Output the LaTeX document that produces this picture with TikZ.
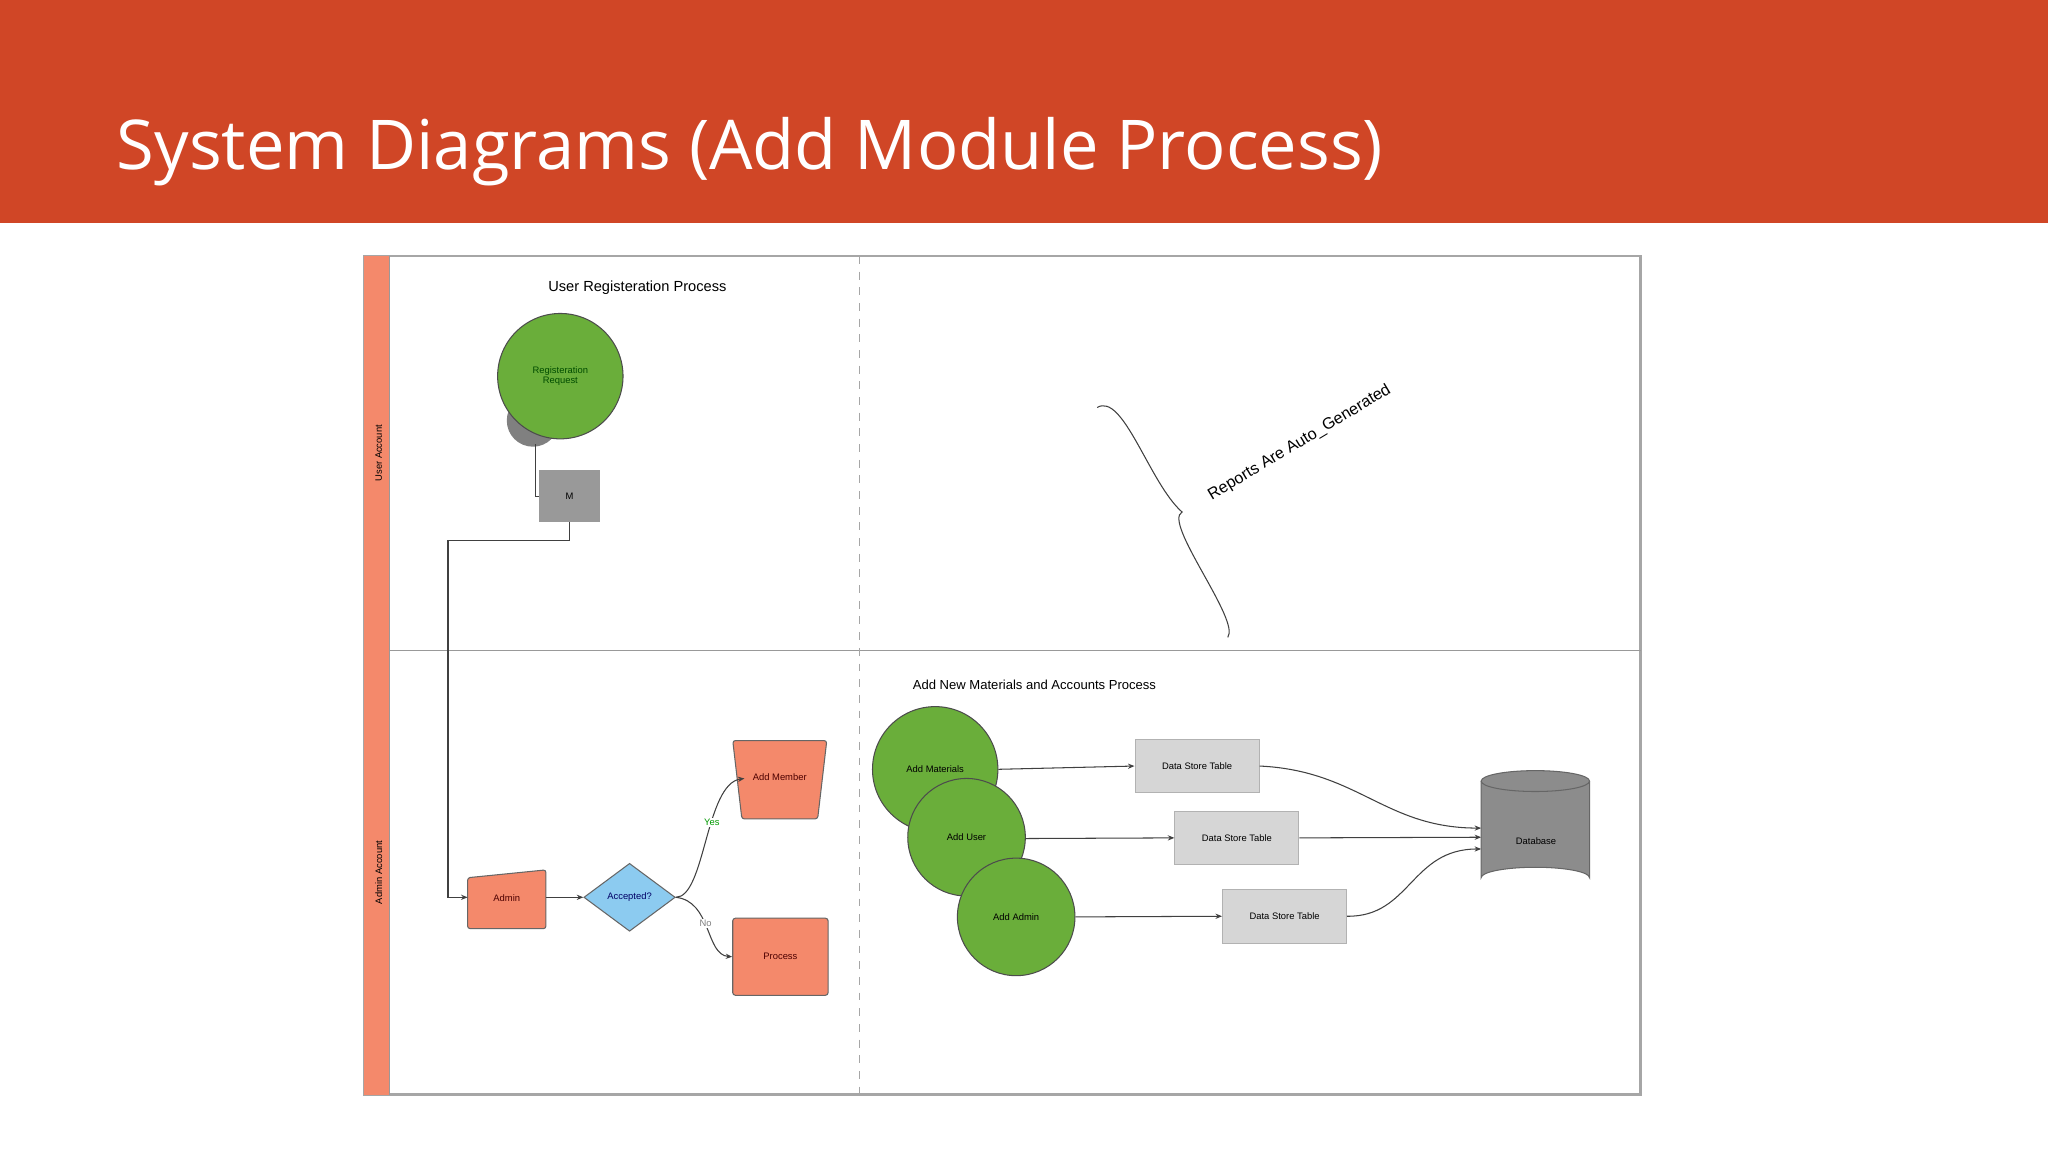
\documentclass[tikz,border=0pt]{standalone}
\usepackage{fontspec}
\setmainfont{Liberation Sans}
\newfontfamily\titlefont{Open Sans}
\usetikzlibrary{shapes.geometric,arrows.meta}
\definecolor{hdr}{HTML}{D04626}
\definecolor{salmon}{HTML}{F4896B}
\definecolor{grn}{HTML}{6AAE3A}
\definecolor{blu}{HTML}{8CCBF0}
\definecolor{dst}{HTML}{D6D6D6}
\tikzset{
 x=0.5pt,y=-0.5pt,
 lbl/.style={font=\fontsize{3.6pt}{4pt}\selectfont,align=center},
 circ/.style={circle,draw=black!70,fill=grn,line width=0.4pt,minimum size=#1*0.5pt,inner sep=0pt,lbl},
 store/.style={rectangle,draw=black!30,fill=dst,minimum width=47.5pt,minimum height=20.5pt,lbl},
 sal/.style={draw=black!60,fill=salmon,line width=0.4pt,rounded corners=1pt},
 conn/.style={draw=black!75,line width=0.4pt},
 arr/.style={conn,-{Stealth[length=2.5pt,width=2pt]}},
}
\begin{document}
\begin{tikzpicture}
\useasboundingbox (0,0) rectangle (1568,882);
\fill[white] (0,0) rectangle (1568,882);
\fill[hdr] (0,0) rectangle (1568,171);
\node[anchor=west,text=white,font=\titlefont\fontsize{26.3pt}{30pt}\selectfont,inner sep=0] (title) at (89,116) {System Diagrams (Add Module Process)};
% frame
\draw[black!35,line width=0.8pt] (279,196) rectangle (1256,838);
\fill[salmon] (279,196) rectangle (298,838);
\draw[black!40,line width=0.4pt] (298,196) -- (298,838);
\draw[black!40,line width=0.6pt] (298,498) -- (1256,498);
\draw[black!35,dashed,line width=0.4pt] (658,196) -- (658,838);
\node[lbl,rotate=90] (ua) at (290,347) {User Account};
\node[lbl,rotate=90] (aa) at (290,668) {Admin Account};
\node[font=\fontsize{5.6pt}{6pt}\selectfont] (t1) at (488,220) {User Registeration Process};
\node[font=\fontsize{5pt}{6pt}\selectfont] (t2) at (792,524) {Add New Materials and Accounts Process};
% user registration
\node[circle,fill=black!50,minimum size=20pt,inner sep=0] (sh) at (408,322) {};
\node[circ=96,text=green!30!black] (reg) at (429,288) {Registeration\\Request};
\node[rectangle,draw=black!40,fill=black!40,minimum width=23pt,minimum height=19.5pt,lbl] (m) at (436,380) {M};
\coordinate (s1) at (410,340);
\draw[conn] (s1) |- (m.west);
\coordinate (c1) at (343,414);
\path[sal] (358,672) -- (418,666) -- (418,711) -- (358,711) -- cycle;
\node[lbl,text=red!30!black] (admin) at (388,688) {Admin};
\coordinate (adminw) at (358,687);
\draw[arr] (m.south) |- (c1) -- (343,687) -- (adminw);
\node[diamond,draw=black!60,fill=blu,minimum width=35pt,minimum height=26pt,inner sep=0,lbl,text=blue!40!black] (acc) at (482,687) {Accepted?};
\draw[arr] (418,687) -- (acc.west);
\path[sal] (561,567) -- (633,567) -- (626,627) -- (568,627) -- cycle;
\node[lbl,text=red!30!black] (am) at (597,595) {Add Member};
\node[sal,rectangle,minimum width=36.5pt,minimum height=29.5pt,lbl,text=red!30!black] (proc) at (597.5,732.5) {Process};
\coordinate (amw) at (570,596);
\draw[arr] (acc.east) .. controls (540,687) and (540,600) .. node[pos=0.6,lbl,text=green!60!black,fill=white,inner sep=0.5pt] {Yes} (amw);
\draw[arr] (acc.east) .. controls (545,690) and (540,731) .. node[pos=0.45,lbl,text=black!50,fill=white,inner sep=0.5pt] {No} (proc.west);
% brace
\coordinate (b1) at (840,312);
\coordinate (b2) at (905,392);
\coordinate (b3) at (940,488);
\draw[conn] (b1) .. controls (860,300) and (880,370) .. (b2) .. controls (890,400) and (950,475) .. (b3);
\node[font=\fontsize{6.2pt}{7pt}\selectfont,rotate=31] (rep) at (995,339) {Reports Are Auto\_Generated};
% add materials
\node[circ=96] (c1n) at (716,589) {Add Materials};
\node[circ=90] (c2n) at (740,641) {Add User};
\node[circ=90] (c3n) at (778,702) {Add Admin};
\node[store] (d1) at (916.5,586.5) {Data Store Table};
\node[store] (d2) at (947,641.5) {Data Store Table};
\node[store] (d3) at (983.5,701.5) {Data Store Table};
\draw[arr] (c1n.east) -- (d1.west);
\draw[arr] (785,642) -- (d2.west);
\draw[arr] (c3n.east) -- (d3.west);
% database
\path[draw=black!60,fill=black!45,line width=0.4pt] (1134,598) -- (1134,672) arc[start angle=180,end angle=360,x radius=41.5,y radius=8] -- (1217,598);
\draw[black!60,fill=black!45,line width=0.4pt] (1175.5,598) ellipse[x radius=41.5,y radius=8];
\node[lbl] (db) at (1176,644) {Database};
\coordinate (db1) at (1134,634);
\coordinate (db2) at (1134,641);
\coordinate (db3) at (1134,650);
\draw[arr] (d1.east) .. controls (1040,590) and (1060,634) .. (db1);
\draw[arr] (d2.east) -- (db2);
\draw[arr] (d3.east) .. controls (1080,702) and (1080,650) .. (db3);
\end{tikzpicture}
\end{document}
